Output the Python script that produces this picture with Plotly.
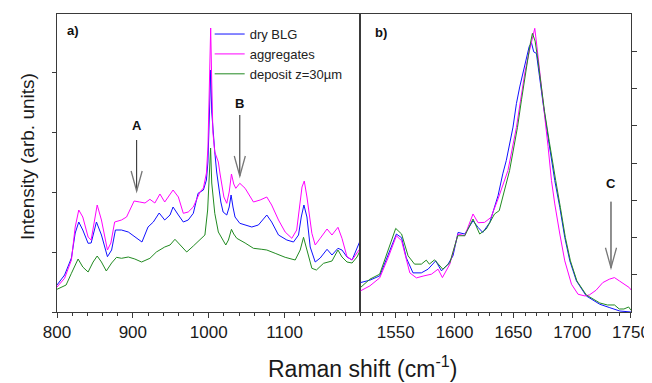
import plotly.graph_objects as go

# ---------------- data ----------------
# panel a) 800-1200 cm-1
a_blue_x = [800, 810, 819, 824, 828.7, 834, 841, 845, 852, 858.6, 866.5, 872, 877, 885, 894, 902.6, 912, 920, 927,
            934.7, 942, 949, 953, 960, 966.5, 973, 979.7, 986, 993, 997, 999, 1001, 1002.6, 1004, 1006, 1008, 1010.5,
            1012.7, 1016, 1019, 1023.8, 1027, 1029.5, 1032, 1034.7, 1041, 1048, 1056.8, 1065.5, 1071, 1076.6, 1083,
            1092, 1103, 1111.8, 1118.4, 1122, 1125.5, 1129.5, 1133.8, 1140.4, 1147, 1156, 1162.5, 1170.4, 1175.7,
            1182.3, 1189, 1195.5, 1200]
a_blue_y = [27, 37, 54, 79, 90, 82, 68.7, 69, 90, 77, 55.3, 62, 82, 82, 80, 75, 70, 85, 90,
            99, 92, 97, 105, 97, 90, 92, 98.7, 118.7, 122, 132, 150, 200, 242, 200, 175, 160, 140,
            128.7, 110, 100, 97, 105, 117, 105, 95, 88.7, 87, 85, 87, 92, 97, 90,
            77, 72, 70, 77, 95, 107, 95, 65, 50, 54, 62.7, 57, 63.7, 62,
            55, 52, 63.7, 72]

a_mag_x = [800, 810, 819, 824, 828.7, 834, 841, 845, 853, 858.6, 866.5, 871, 876, 885, 891.7, 901.7, 909, 916, 922.5,
           929, 935.7, 942, 953, 960, 966.5, 973, 979.7, 988.5, 993, 997, 999, 1001, 1002.6, 1004, 1005.5, 1008,
           1010.5, 1012.7, 1015, 1017, 1020, 1023.8, 1027, 1030, 1033, 1035.7, 1041, 1048, 1053, 1059, 1067.8,
           1076.6, 1083, 1092, 1100.8, 1109.6, 1116, 1120, 1123, 1126, 1129.5, 1136, 1140.4, 1147, 1156, 1162.5,
           1170.4, 1175.7, 1182.3, 1189, 1195.5, 1200]
a_mag_y = [25, 33.7, 52, 85, 102, 95, 75, 72, 107, 92, 62, 69, 90, 92, 95, 111, 110, 109, 112.7,
           109, 118, 110, 122, 115, 98.7, 100, 105, 120, 124, 139, 165, 225, 284, 230, 180, 160,
           155, 150, 138, 128.7, 115, 108.7, 120, 138, 128, 123.7, 128.7, 123.7, 118, 110, 112,
           115, 107, 92, 80, 73.7, 82, 105, 125, 131, 115, 78.7, 67, 73.7, 83, 77,
           84.7, 73.7, 55.3, 52, 58.7, 64]

a_grn_x = [800, 812, 819, 827.8, 834, 841, 847.6, 853, 858.6, 865, 872, 878.5, 885, 894, 902.6, 911.5, 922.5, 931,
           942, 949, 955.5, 962, 971, 979.7, 988.5, 995, 998.6, 1000.5, 1002.5, 1004, 1006, 1008, 1012.7, 1019,
           1022.5, 1026, 1030, 1033, 1037, 1048, 1059, 1070, 1076.6, 1087.6, 1100.8, 1114, 1120.6, 1125, 1129.5,
           1136, 1142, 1151.4, 1162.5, 1170.4, 1175.7, 1182.3, 1189, 1195.5, 1200]
a_grn_y = [22.7, 27, 38.7, 53, 45, 40, 50, 56, 50, 41, 49, 54.7, 53.7, 55, 53, 50, 53.7, 60,
           65, 67, 72.7, 67, 60, 66, 72, 77, 102, 130, 164, 129, 110, 98.7, 80, 72,
           67, 72, 82.7, 78, 73.7, 69, 63.7, 62.7, 62, 58.7, 54.7, 52, 62, 74.7, 62,
           43.7, 42, 48.7, 51, 62, 55, 50, 49, 55, 62]

# panel b) 1520-1750 cm-1
b_blue_x = [1520, 1528, 1536.4, 1543.5, 1550.6, 1555, 1559, 1564.7, 1571.8, 1577.5, 1584, 1588.9, 1594.5, 1598.7,
            1603, 1608.7, 1615.7, 1620, 1624, 1630, 1637, 1641, 1644, 1649.7, 1652.6, 1655.4, 1659.7, 1663.4,
            1665.4, 1667.3, 1669.6, 1672.4, 1675.3, 1679.5, 1683.8, 1685.2, 1689.5, 1693.7, 1698, 1703.6, 1712,
            1723.5, 1732, 1740.5, 1750]
b_blue_y = [29.3, 31.7, 36, 57.7, 77.7, 74, 54, 39, 39, 42.7, 51, 41, 47.7, 56,
            79.3, 77.7, 91, 84.3, 79.3, 89.3, 116, 137.7, 151, 184.3, 207.7, 224.3, 247.7, 264.3,
            268.3, 259.3, 257.7, 231, 207.7, 174.3, 141, 131, 104.3, 74.3, 51, 31, 16,
            7.7, 4.3, 1, 0]

b_mag_x = [1520, 1528, 1536.4, 1543.5, 1550.6, 1555, 1562, 1567.6, 1574, 1580.4, 1586, 1589.7, 1596, 1603, 1608.7,
           1615.7, 1620, 1625.5, 1631, 1637, 1645.4, 1652.6, 1656, 1660, 1664, 1666.5, 1668.2, 1670, 1673, 1676,
           1679.5, 1682.4, 1685.2, 1689.5, 1693.7, 1699.4, 1705, 1710.8, 1714.6, 1720.3, 1726, 1731.6, 1735.9,
           1740.1, 1744.4, 1748.6, 1750]
b_mag_y = [21, 26, 34, 54, 76, 71, 39, 34, 36, 37.7, 42.7, 34.3, 47.7, 77.7, 76,
           97.7, 89, 89.3, 94.3, 112.7, 141, 184, 210, 240, 262, 275, 282.7, 265, 235, 205,
           165, 131, 107.7, 77.7, 51, 27.7, 17.7, 16, 17, 21.7, 29.3, 32.7, 34.3,
           31, 27.7, 24.3, 22]

b_grn_x = [1520, 1528, 1536.4, 1543.5, 1550, 1555, 1560.5, 1566, 1571.8, 1576, 1578.6, 1583, 1586, 1590, 1596,
           1602.7, 1608.7, 1615.7, 1621.4, 1627, 1634, 1638, 1646.8, 1653.5, 1657, 1660.5, 1664, 1666.2, 1668.5,
           1671, 1673.5, 1676.5, 1680.5, 1684.5, 1686, 1690, 1694.2, 1698.5, 1704, 1712, 1723.5, 1730, 1736,
           1740, 1744, 1748, 1750]
b_grn_y = [24.3, 32.7, 37.7, 62.7, 83.3, 77.7, 56, 47.7, 47.7, 51.7, 47.7, 52, 47.7, 42.7, 49,
           76, 76, 92.7, 77.7, 82.7, 97.7, 101, 141, 184, 212, 240, 265, 277.7, 270,
           250, 225, 200, 170, 138, 131, 104, 74.3, 51, 31, 17, 9, 7, 7,
           3, 3, 5, 1.7]

series_names = ["dry BLG", "aggregates", "deposit z=30\u00b5m"]
x_ticks_a = [800, 900, 1000, 1100]
x_ticks_b = [1550, 1600, 1650, 1700, 1750]

# ---------------- figure ----------------
FONT = "Arial, Liberation Sans, sans-serif"
colors = ["#1010ff", "#ff00ff", "#218a21"]
fig = go.Figure()

for (xa, ya, xb, yb, name, c) in [
    (a_blue_x, a_blue_y, b_blue_x, b_blue_y, series_names[0], colors[0]),
    (a_mag_x, a_mag_y, b_mag_x, b_mag_y, series_names[1], colors[1]),
    (a_grn_x, a_grn_y, b_grn_x, b_grn_y, series_names[2], colors[2]),
]:
    fig.add_trace(go.Scatter(x=xa, y=ya, mode="lines", name=name, line=dict(color=c, width=1),
                             xaxis="x", yaxis="y", legendgroup=name))
    fig.add_trace(go.Scatter(x=xb, y=yb, mode="lines", name=name, line=dict(color=c, width=1),
                             xaxis="x2", yaxis="y2", legendgroup=name, showlegend=False))

AX = "#3a3a3a"
split = 0.5286
# the page body has an 8 px margin, so the figure is 8 px smaller and its margins compensate
fig.update_layout(
    width=644, height=375,
    margin=dict(l=49, r=21, t=6, b=71, autoexpand=False),
    paper_bgcolor="white", plot_bgcolor="white",
    font=dict(family=FONT, color="#1a1a1a"),
    xaxis=dict(domain=[0, split], range=[800, 1200], tickvals=x_ticks_a, ticks="outside", ticklen=5,
               tickcolor=AX, showline=True, linecolor=AX, linewidth=1, mirror=True, showgrid=False,
               zeroline=False, tickfont=dict(size=17), automargin=False,
               minor=dict(dtick=20, tick0=800, ticks="outside", ticklen=3, tickcolor=AX)),
    yaxis=dict(domain=[0, 1], range=[0, 298], tick0=0, dtick=60, ticks="outside", ticklen=4,
               tickcolor=AX, showticklabels=False, showline=True, linecolor=AX, linewidth=1,
               mirror=True, showgrid=False, zeroline=False, automargin=False),
    xaxis2=dict(domain=[split, 1], range=[1520, 1750], tickvals=x_ticks_b, ticks="outside", ticklen=5,
                tickcolor=AX, showline=True, linecolor=AX, linewidth=1, mirror=True, showgrid=False,
                zeroline=False, tickfont=dict(size=17), anchor="y2", automargin=False,
                minor=dict(dtick=10, tick0=1520, ticks="outside", ticklen=3, tickcolor=AX)),
    yaxis2=dict(domain=[0, 1], range=[0, 297], tickvals=[37.125 * i for i in range(1, 8)],
                ticks="outside", ticklen=5, tickcolor=AX, showticklabels=False, side="right",
                anchor="x2", showline=True, linecolor=AX, linewidth=1, mirror=True,
                showgrid=False, zeroline=False, automargin=False),
    legend=dict(x=0.266, y=0.983, xanchor="left", yanchor="top", bgcolor="rgba(0,0,0,0)",
                font=dict(size=13, color="#222"), tracegroupgap=0, itemwidth=30),
    showlegend=True,
)

# arrows (open V heads)
def arrow(xc, ytop, ytip, half_w, head_len, xref, yref):
    fig.add_shape(type="line", x0=xc, x1=xc, y0=ytop, y1=ytip, xref=xref, yref=yref,
                  line=dict(color="#222", width=1))
    fig.add_shape(type="path", xref=xref, yref=yref,
                  path=f"M {xc - half_w},{ytip + head_len} L {xc},{ytip} L {xc + half_w},{ytip + head_len}",
                  line=dict(color="#777", width=1.3))

arrow(905, 172, 121, 7.3, 20, "x", "y")
arrow(1041, 197, 136, 7.3, 20, "x", "y")
arrow(1733, 110, 44, 4.7, 20, "x2", "y2")

for txt, x, y, xr, yr in [("A", 905, 187, "x", "y"), ("B", 1041, 209, "x", "y"), ("C", 1733, 128, "x2", "y2")]:
    fig.add_annotation(text=f"<b>{txt}</b>", x=x, y=y, xref=xr, yref=yr, showarrow=False,
                       xanchor="center", yanchor="middle", font=dict(size=13, color="#111"))

fig.add_annotation(text="<b>a)</b>", x=(73 - 57) / 574, y=(312 - 30) / 298, xref="paper", yref="paper",
                   showarrow=False, xanchor="center", yanchor="middle", font=dict(size=13, color="#111"))
fig.add_annotation(text="<b>b)</b>", x=(380.5 - 57) / 574, y=(312 - 33) / 298, xref="paper", yref="paper",
                   showarrow=False, xanchor="center", yanchor="middle", font=dict(size=13, color="#111"))

fig.add_annotation(text="Raman shift (cm<sup>-1</sup>)", x=(362 - 57) / 574, y=(312 - 367) / 298,
                   xref="paper", yref="paper", showarrow=False, xanchor="center", yanchor="middle",
                   font=dict(size=23, color="#1a1a1a"))
fig.add_annotation(text="Intensity (arb. units)", x=(27 - 57) / 574, y=(312 - 157) / 298, xref="paper",
                   yref="paper", showarrow=False, textangle=-90, xanchor="center", yanchor="middle",
                   font=dict(size=19, color="#1a1a1a"))

fig.write_html("out.html")
